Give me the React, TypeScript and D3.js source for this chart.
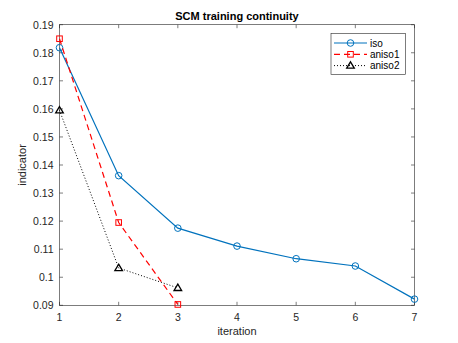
import { useEffect, useRef } from "react";
import * as d3 from "d3";

const iterations = [1, 2, 3, 4, 5, 6, 7];
const isoValues = [0.1818, 0.1362, 0.1175, 0.1111, 0.1066, 0.104, 0.0922];
const aniso1Values = [0.185, 0.1195, 0.0903];
const aniso2Values = [0.1595, 0.1033, 0.0962];
const yTicks = [0.09, 0.1, 0.11, 0.12, 0.13, 0.14, 0.15, 0.16, 0.17, 0.18, 0.19];
const seriesNames = ["iso", "aniso1", "aniso2"];

export default function App() {
  const ref = useRef<SVGSVGElement>(null);

  useEffect(() => {
    const svg = d3.select(ref.current);
    svg.selectAll("*").remove();

    const left = 59.5, right = 414.5, top = 24.7, bottom = 305.3;
    const x = d3.scaleLinear().domain([1, 7]).range([left, right]);
    const y = d3.scaleLinear().domain([0.09, 0.19]).range([bottom, top]);
    const axisColor = "#262626";
    const font = "Liberation Sans, Arial, sans-serif";

    svg.append("rect").attr("width", 458).attr("height", 343).attr("fill", "#fff");

    const g = svg.append("g");
    const tl = 3.5;
    // x ticks bottom + top
    iterations.forEach((t) => {
      g.append("line").attr("x1", x(t)).attr("x2", x(t)).attr("y1", bottom).attr("y2", bottom - tl).attr("stroke", axisColor).attr("stroke-width", 0.6);
      g.append("line").attr("x1", x(t)).attr("x2", x(t)).attr("y1", top).attr("y2", top + tl).attr("stroke", axisColor).attr("stroke-width", 0.6);
      g.append("text").attr("x", x(t)).attr("y", bottom + 15.5).attr("text-anchor", "middle")
        .attr("font-family", font).attr("font-size", 10.5).attr("fill", axisColor).text(String(t));
    });
    yTicks.forEach((t) => {
      g.append("line").attr("x1", left).attr("x2", left + tl).attr("y1", y(t)).attr("y2", y(t)).attr("stroke", axisColor).attr("stroke-width", 0.6);
      g.append("line").attr("x1", right).attr("x2", right - tl).attr("y1", y(t)).attr("y2", y(t)).attr("stroke", axisColor).attr("stroke-width", 0.6);
      g.append("text").attr("x", left - 6).attr("y", y(t) + 3.8).attr("text-anchor", "end")
        .attr("font-family", font).attr("font-size", 10.5).attr("fill", axisColor).text(String(+t.toFixed(2)));
    });
    g.append("rect").attr("x", left).attr("y", top).attr("width", right - left)
      .attr("height", bottom - top).attr("fill", "none").attr("stroke", axisColor).attr("stroke-width", 0.6);

    svg.append("text").attr("x", (left + right) / 2).attr("y", 20).attr("text-anchor", "middle")
      .attr("font-family", font).attr("font-size", 11).attr("font-weight", "bold").attr("fill", "#000")
      .text("SCM training continuity");
    svg.append("text").attr("x", (left + right) / 2).attr("y", 335).attr("text-anchor", "middle")
      .attr("font-family", font).attr("font-size", 11).attr("fill", axisColor).text("iteration");
    svg.append("text").attr("transform", `translate(26,${(top + bottom) / 2}) rotate(-90)`).attr("text-anchor", "middle")
      .attr("font-family", font).attr("font-size", 11).attr("fill", axisColor).text("indicator");

    const line = d3.line<number>().x((_, i) => x(iterations[i])).y((d) => y(d));
    const series = [
      { name: seriesNames[0], values: isoValues, color: "#0072BD", dash: null as string | null, marker: "circle" },
      { name: seriesNames[1], values: aniso1Values, color: "#FF0000", dash: "6,4", marker: "square" },
      { name: seriesNames[2], values: aniso2Values, color: "#000000", dash: "1,2", marker: "triangle" },
    ];

    const drawMarker = (sel: d3.Selection<SVGGElement, unknown, null, undefined>, kind: string, cx: number, cy: number, color: string) => {
      if (kind === "circle") {
        sel.append("circle").attr("cx", cx).attr("cy", cy).attr("r", 3.3).attr("fill", "none").attr("stroke", color).attr("stroke-width", 1);
      } else if (kind === "square") {
        sel.append("rect").attr("x", cx - 2.8).attr("y", cy - 2.8).attr("width", 5.6).attr("height", 5.6).attr("fill", "none").attr("stroke", color).attr("stroke-width", 1);
      } else {
        sel.append("path").attr("d", `M${cx},${cy - 3.8}L${cx + 3.8},${cy + 2.6}L${cx - 3.8},${cy + 2.6}Z`).attr("fill", "none").attr("stroke", color).attr("stroke-width", 1.3);
      }
    };

    const plot = svg.append("g");
    series.forEach((s) => {
      const p = plot.append("path").attr("d", line(s.values)).attr("fill", "none").attr("stroke", s.color).attr("stroke-width", s.marker === "triangle" ? 1 : 1.2);
      if (s.dash) p.attr("stroke-dasharray", s.dash);
      const mg = plot.append("g");
      s.values.forEach((v, i) => drawMarker(mg, s.marker, x(iterations[i]), y(v), s.color));
    });

    // legend
    const lg = svg.append("g");
    lg.append("rect").attr("x", 331).attr("y", 33.5).attr("width", 74.5).attr("height", 41).attr("fill", "#fff").attr("stroke", axisColor).attr("stroke-width", 0.6);
    series.forEach((s, i) => {
      const ly = 43 + i * 11.3;
      const l = lg.append("line").attr("x1", 334).attr("x2", 367).attr("y1", ly).attr("y2", ly).attr("stroke", s.color).attr("stroke-width", s.marker === "triangle" ? 1 : 1.2);
      if (s.dash) l.attr("stroke-dasharray", s.dash);
      drawMarker(lg, s.marker, 350.5, ly, s.color);
      lg.append("text").attr("x", 370).attr("y", ly + 3.5).attr("font-family", font).attr("font-size", 10).attr("fill", "#000").text(s.name);
    });
  }, []);

  return <svg ref={ref} width={458} height={343} style={{ display: "block", position: "absolute", left: 0, top: 0 }} />;
}
